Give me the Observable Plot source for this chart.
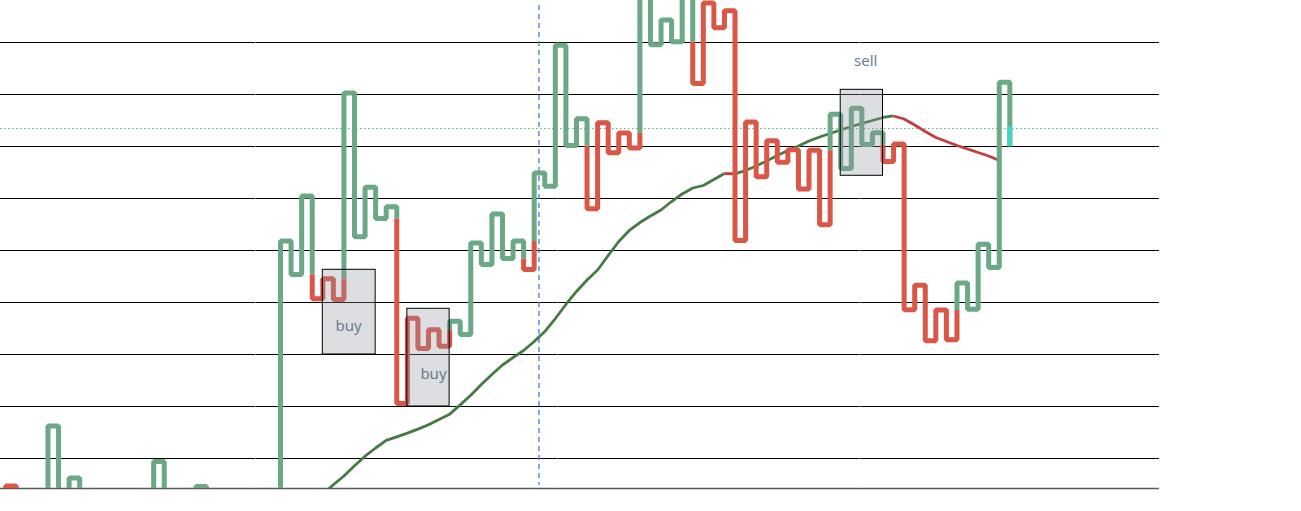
<!DOCTYPE html>
<html>
<head>
<meta charset="utf-8">
<script src="https://cdn.jsdelivr.net/npm/d3@7"></script>
<script src="https://cdn.jsdelivr.net/npm/@observablehq/plot@0.6"></script>
<style>
  html, body { margin: 0; padding: 0; background: #ffffff; }
  #chart svg { display: block; }
</style>
</head>
<body>
<div id="chart"></div>
<script>
// ---- data ----
const gridLevels = [10, 20, 30, 40, 50, 60, 70, 80, 90];

// Kagi turning levels; column i runs vertically from kagiLevels[i] to kagiLevels[i+1]
const kagiLevels = [
  1.92, 4.71, -3.85, 2.88, -1.92, 16.25, -0.96, 6.25, -0.38, 2.88,
  0.00, 1.92, 0.38, 2.88, 0.96, 9.42, 1.35, 3.46, 1.54, 4.62,
  1.92, 3.08, 2.12, 3.46, 2.31, 3.27, 2.50, 51.83, 45.38, 60.48,
  40.71, 44.56, 40.58, 80.29, 52.63, 62.17, 56.15, 58.40, 20.58, 36.98,
  31.15, 34.75, 31.60, 36.40, 33.85, 51.44, 47.31, 57.02, 48.46, 51.83,
  46.35, 64.90, 62.35, 89.46, 70.19, 75.33, 58.04, 74.58, 68.81, 72.60,
  69.71, 100.96, 89.56, 94.33, 90.15, 100.00, 82.12, 97.60, 92.85, 96.12,
  51.92, 74.71, 64.19, 71.12, 66.96, 69.38, 61.83, 69.27, 54.96, 76.21,
  65.77, 77.37, 70.38, 72.63, 67.12, 70.48, 38.62, 43.31, 32.65, 38.56,
  32.83, 43.75, 38.69, 51.19, 46.73, 82.37, 70.00
];

// moving average, one value per column starting at maStart
const maStart = 30;
const maLevels = [
  3.08, 4.96, 6.63, 8.60, 10.44, 12.02, 13.50, 14.17, 14.88, 15.65,
  16.48, 17.50, 18.52, 20.31, 22.17, 24.23, 26.15, 27.98, 29.42, 30.77,
  32.50, 34.42, 36.92, 39.62, 42.12, 44.33, 46.25, 49.04, 51.73, 53.85,
  55.38, 56.63, 57.79, 59.42, 60.87, 62.02, 62.50, 63.65, 64.81, 64.73,
  65.38, 66.25, 67.21, 68.27, 69.23, 70.10, 71.06, 71.83, 72.50, 73.17,
  73.85, 74.42, 75.00, 75.58, 75.87, 75.29, 74.13, 72.88, 71.73, 70.96,
  70.19, 69.52, 68.85, 68.17, 67.31
];

// signal boxes
const signalLabels = ["buy", "buy", "sell"];
const signalX1 = [30, 38, 79];
const signalX2 = [35, 42, 83];
const signalLow = [30, 20, 64.37];
const signalHigh = [46.29, 38.79, 80.90];
const labelX = [32.45, 40.47, 81.37];
const labelY = [35.38, 26.15, 86.35];

const lastPrice = 73.46;     // dotted price line
const currentTop = 73.8;     // start of the current (cyan) part of the last column
const markerCol = 50.45;     // dashed vertical marker
const xCuts = [23.63, 52.2, 80.78];

// ---- derived tables ----
const lastCol = kagiLevels.length - 2;

function kagiRows(levels) {
  const rows = [];
  let state = "red", run = 0;
  let lastHigh = Infinity, lastLow = levels[0];
  let pts = [{x: 0, y: levels[0]}];
  const flush = () => { for (const p of pts) rows.push({...p, run, color: state}); run++; };
  for (let i = 0; i < levels.length - 1; i++) {
    const a = levels[i], b = levels[i + 1], up = b > a;
    if (up && state === "red" && b > lastHigh) {
      pts.push({x: i, y: lastHigh}); flush(); state = "green"; pts = [{x: i, y: lastHigh}];
    } else if (!up && state === "green" && b < lastLow) {
      pts.push({x: i, y: lastLow}); flush(); state = "red"; pts = [{x: i, y: lastLow}];
    }
    pts.push({x: i, y: b});
    if (i < levels.length - 2) pts.push({x: i + 1, y: b});
    if (up) lastHigh = b; else lastLow = b;
  }
  flush();
  return rows;
}

function maRows(start, vals) {
  const rows = [];
  let run = 0, prev = null;
  for (let i = 0; i < vals.length - 1; i++) {
    const color = vals[i + 1] < vals[i] ? "red" : "green";
    if (color !== prev) { run++; rows.push({x: start + i, y: vals[i], run, color}); prev = color; }
    rows.push({x: start + i + 1, y: vals[i + 1], run, color});
  }
  return rows;
}

const kRows = kagiRows(kagiLevels);
const mRows = maRows(maStart, maLevels);
const signals = signalLabels.map((label, i) => ({
  label, x1: signalX1[i], x2: signalX2[i], y1: signalLow[i], y2: signalHigh[i], lx: labelX[i], ly: labelY[i]
}));

const GREEN = "#6aa886", RED = "#da5748";
const MA_GREEN = "#467a44", MA_RED = "#c43c3c";
const yMin = 4.2308, yMax = 98.077;

const kagiLine = (color, stroke) => Plot.line(kRows.filter(d => d.color === color), {
  x: "x", y: "y", z: "run", stroke, strokeWidth: 5,
  strokeLinejoin: "miter", strokeLinecap: "butt", curve: "linear", clip: true
});
const maLine = (color, stroke) => Plot.line(mRows.filter(d => d.color === color), {
  x: "x", y: "y", z: "run", stroke, strokeWidth: 2.8,
  strokeLinejoin: "round", strokeLinecap: "butt", clip: true
});

const chart = Plot.plot({
  width: 1301,
  height: 511,
  marginLeft: 0,
  marginRight: 142,
  marginTop: 0,
  marginBottom: 23,
  x: {domain: [-0.492, 109.16], axis: null},
  y: {domain: [yMin, yMax], axis: null},
  style: {background: "#ffffff", fontFamily: "'Noto Sans', sans-serif"},
  marks: [
    Plot.ruleY(gridLevels, {stroke: "#000000", strokeWidth: 1.2}),
    Plot.ruleY([yMin], {stroke: "#5a5a5a", strokeWidth: 1.4}),
    Plot.ruleX(xCuts, {stroke: "#ffffff", strokeWidth: 1, strokeOpacity: 0.5}),
    Plot.ruleY([lastPrice], {stroke: "#5fae86", strokeWidth: 1, strokeDasharray: "1.5,2.5"}),
    Plot.ruleX([markerCol], {stroke: "#4a86e8", strokeWidth: 1.4, strokeDasharray: "5,4", insetTop: 5, insetBottom: 3}),
    maLine("green", MA_GREEN),
    maLine("red", MA_RED),
    kagiLine("green", GREEN),
    kagiLine("red", RED),
    Plot.ruleX([lastCol], {y1: currentTop, y2: kagiLevels[kagiLevels.length - 1], stroke: "#45d6bf", strokeWidth: 5}),
    Plot.rect(signals, {x1: "x1", x2: "x2", y1: "y1", y2: "y2", fill: "rgb(142,145,158)", fillOpacity: 0.3, stroke: "#000000", strokeWidth: 1}),
    Plot.text(signals, {x: "lx", y: "ly", text: "label", fill: "#6b7b8f", fontSize: 15, textAnchor: "middle", lineAnchor: "middle"})
  ]
});
document.getElementById("chart").appendChild(chart);
</script>
</body>
</html>
